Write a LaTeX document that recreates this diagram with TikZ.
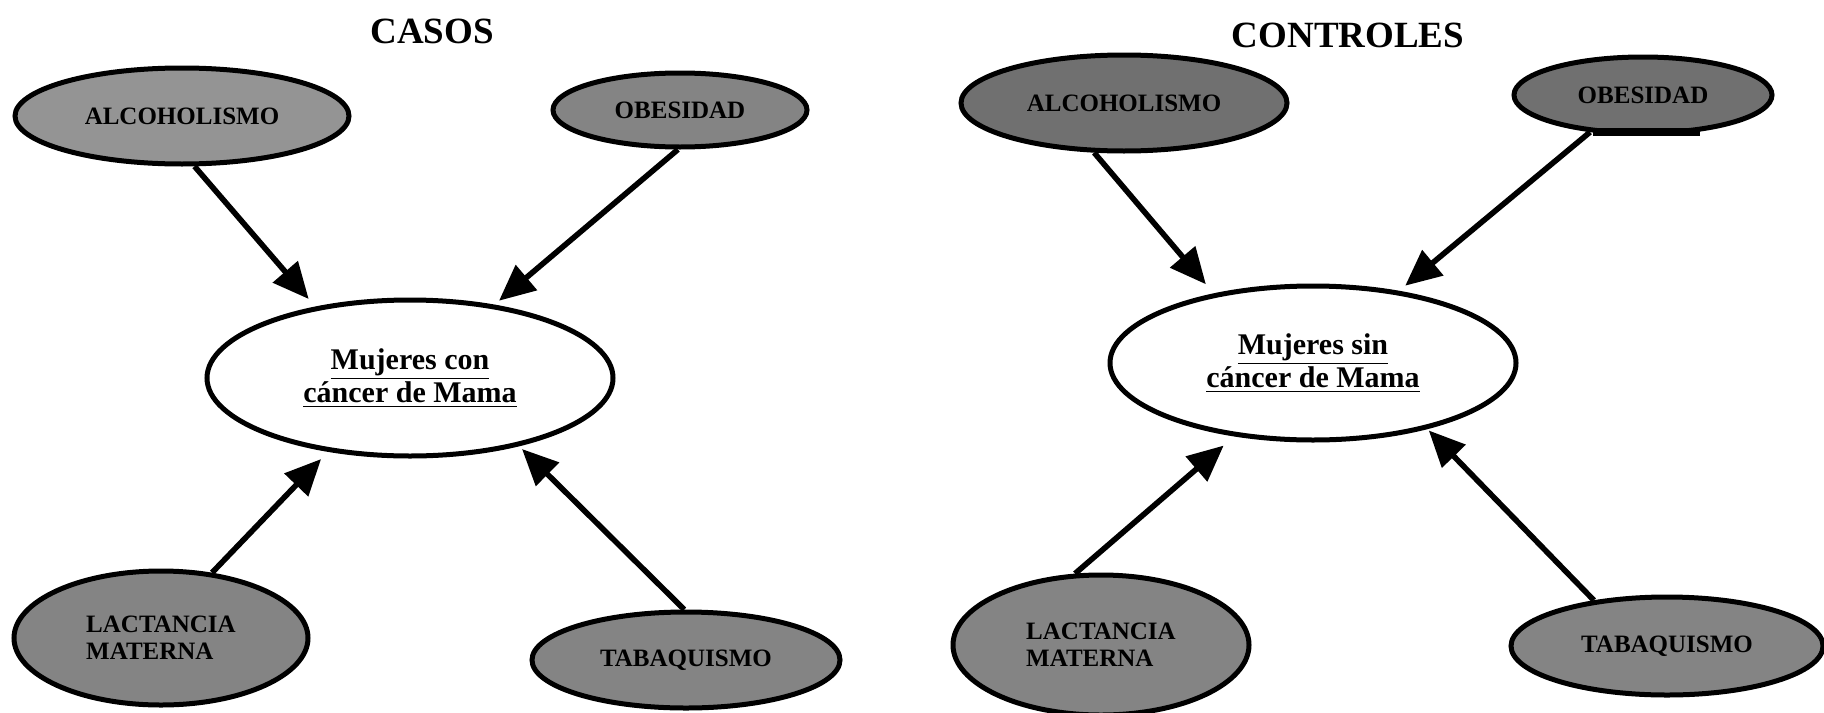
\documentclass[tikz,border=0pt]{standalone}
\usepackage{fontspec}
\setmainfont{Liberation Serif}
\usetikzlibrary{arrows.meta,shapes.geometric}
\definecolor{gA}{RGB}{148,148,148}
\definecolor{gB}{RGB}{132,132,132}
\definecolor{gC}{RGB}{112,112,112}
\tikzset{
  factor/.style={ellipse, draw=black, line width=2.5pt, inner sep=0pt,
    font=\bfseries\fontsize{12.5}{13.5}\selectfont, align=center},
  outcome/.style={ellipse, draw=black, line width=2.5pt, fill=white, inner sep=0pt,
    font=\bfseries\fontsize{15}{14}\selectfont, align=center},
  heading/.style={font=\bfseries\fontsize{18.5}{20}\selectfont, inner sep=0pt},
  link/.style={line width=2.8pt, -{Triangle[length=18pt,width=16pt]}}
}
\begin{document}
\begin{tikzpicture}[x=0.5pt,y=-0.5pt]
\useasboundingbox (0,0) rectangle (1824,712);

% titles
\node[heading] (tcas) at (432,31) {CASOS};
\node[heading] (tcon) at (1348,35) {CONTROLES};

% left diagram
\node[outcome, minimum width=203pt, minimum height=78pt] (mujL) at (410,378)
  {\underline{Mujeres con}\\\underline{cáncer de Mama}};
\node[factor, fill=gA, minimum width=167pt, minimum height=48pt] (alcL) at (182,116) {ALCOHOLISMO};
\node[factor, fill=gB, minimum width=127pt, minimum height=37pt] (obeL) at (680,110) {OBESIDAD};
\node[factor, fill=gB, minimum width=147pt, minimum height=67pt, align=left] (lacL) at (161,638) {LACTANCIA\\MATERNA};
\node[factor, fill=gB, minimum width=154pt, minimum height=48pt] (tabL) at (686,660) {TABAQUISMO};

\draw[link, shorten >=5pt] (alcL.-76) -- (mujL.143);
\draw[link, shorten >=3pt] (obeL.-93) -- (mujL.41);
\draw[link, shorten >=5pt] (lacL.52) -- (mujL.-138);
\draw[link, shorten >=2pt] (tabL.92) -- (mujL.-32);

% right diagram
\node[outcome, minimum width=203pt, minimum height=77pt] (mujR) at (1313,363)
  {\underline{Mujeres sin}\\\underline{cáncer de Mama}};
\node[factor, fill=gC, minimum width=163pt, minimum height=48pt] (alcR) at (1124,103) {ALCOHOLISMO};
\node[factor, fill=gC, minimum width=129pt, minimum height=38pt] (obeR) at (1643,95) {OBESIDAD};
\node[factor, fill=gB, minimum width=148pt, minimum height=70pt, align=left] (lacR) at (1101,645) {LACTANCIA\\MATERNA};
\node[factor, fill=gB, minimum width=156pt, minimum height=49pt] (tabR) at (1667,646) {TABAQUISMO};
\draw[line width=4pt] (1593,132) -- (1700,132);

\draw[link, shorten >=6pt] (alcR.-121) -- (mujR.145);
\draw[link, shorten >=4pt] (obeR.-145) -- (mujR.40);
\draw[link, shorten >=7pt] (lacR.110) -- (mujR.-137);
\draw[link, shorten >=1pt] (tabR.148) -- (mujR.-30);
\end{tikzpicture}
\end{document}
